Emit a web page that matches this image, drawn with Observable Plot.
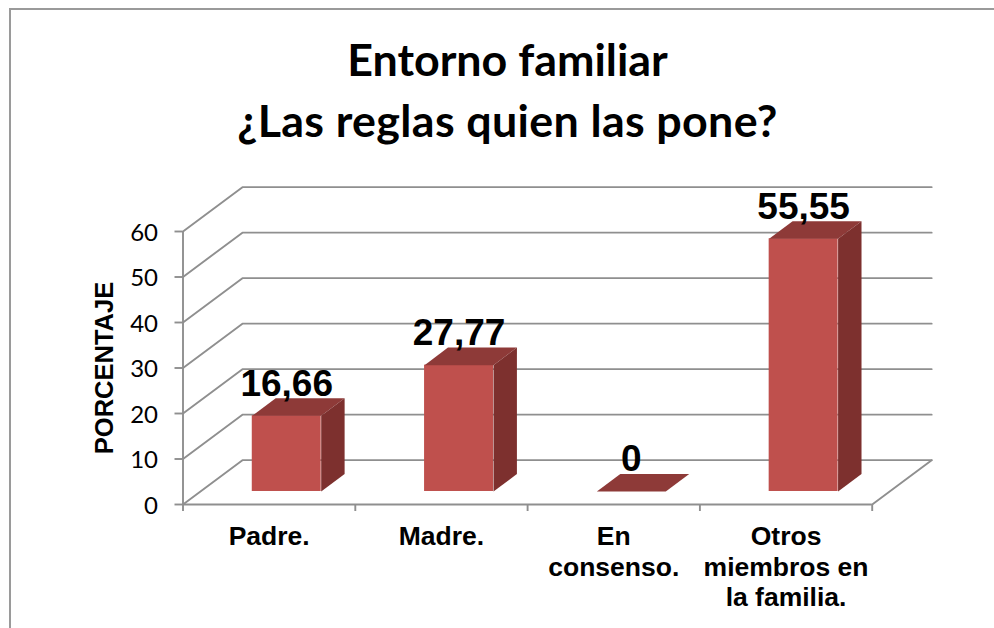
<!DOCTYPE html>
<html>
<head>
<meta charset="utf-8">
<script src="https://cdn.jsdelivr.net/npm/d3@7"></script>
<script src="https://cdn.jsdelivr.net/npm/@observablehq/plot@0.6"></script>
<style>
html,body{margin:0;padding:0;background:#fff;overflow:hidden}
#page{position:relative;width:994px;height:628px;overflow:hidden}
#frame{position:absolute;left:9px;top:8px;width:1040px;height:680px;border:2px solid #9a9a9a;box-sizing:border-box}
#title{position:absolute;left:0;top:29px;width:1015px;text-align:center;font:700 44.8px/61px Lato,sans-serif;color:#000}
#title span{letter-spacing:.35px}
#chart{position:absolute;left:0;top:0}
</style>
</head>
<body>
<div id="page">
<div id="frame"></div>
<div id="chart"></div>
<div id="title">Entorno familiar<br><span>¿Las reglas quien las pone?</span></div>
</div>
<script>
const categories = ["Padre.", "Madre.", "En\nconsenso.", "Otros\nmiembros en\nla familia."];
const values = [16.66, 27.77, 0, 55.55];
const valueLabels = ["16,66", "27,77", "0", "55,55"];
const yTicks = [0, 10, 20, 30, 40, 50, 60];

// 3-D projection, in data units (categories on x, percent on y)
const wallDX = 0.345, wallDY = 9.75;
const barInset = 0.102, barWidth = 0.4;
const baseDY = 2.86;
const depthDX = 0.136, depthDY = 3.85;
const labelDY = 4.4;
const n = categories.length;

const barsData = values.map((v, i) => {
  const x1 = i + 0.5 - barWidth / 2 + barInset, x2 = x1 + barWidth;
  return {i, v, x1, x2, y1: baseDY, y2: baseDY + v};
});
const poly = (id, pts) => pts.map(([x, y]) => ({id, x, y}));
const frontFaces = barsData.filter(b => b.v > 0);
const topFaces = barsData.flatMap(b => poly("t" + b.i, [
  [b.x1, b.y2], [b.x2, b.y2], [b.x2 + depthDX, b.y2 + depthDY], [b.x1 + depthDX, b.y2 + depthDY]
]));
const sideFaces = barsData.filter(b => b.v > 0).flatMap(b => poly("s" + b.i, [
  [b.x2, b.y1], [b.x2 + depthDX, b.y1 + depthDY], [b.x2 + depthDX, b.y2 + depthDY], [b.x2, b.y2]
]));
const wallLines = yTicks.flatMap(t => poly("w" + t, [
  [0, t], [wallDX, t + wallDY], [n + wallDX, t + wallDY]
]));
const floorEdge = poly("f", [[n, 0], [n + wallDX, wallDY]]);

const gray = "#8f8f8f";
const plot = Plot.plot({
  width: 994,
  height: 628,
  marginLeft: 182.5,
  marginRight: 122.3,
  marginTop: 231,
  marginBottom: 124,
  style: {background: "transparent"},
  x: {type: "linear", domain: [0, n], axis: null},
  y: {type: "linear", domain: [0, 60], axis: null},
  marks: [
    Plot.line(wallLines, {x: "x", y: "y", z: "id", stroke: gray, strokeWidth: 1.9}),
    Plot.line(floorEdge, {x: "x", y: "y", stroke: gray, strokeWidth: 1.9}),
    Plot.ruleX([0], {y1: 0, y2: 60, stroke: gray, strokeWidth: 1.9}),
    Plot.ruleY([0], {x1: 0, x2: n, stroke: gray, strokeWidth: 2.1}),
    Plot.axisY(yTicks, {
      anchor: "left", ticks: yTicks, tickSize: 8, tickFormat: () => "", stroke: gray, strokeWidth: 1.9, label: null
    }),
    Plot.axisY(yTicks, {
      anchor: "left", ticks: yTicks, tickSize: 0, tickPadding: 25, dy: 1.5, stroke: "none",
      label: null, fontSize: 24, fontFamily: "Lato, sans-serif", color: "#000"
    }),
    Plot.axisX(d3.range(n + 1), {
      anchor: "bottom", ticks: d3.range(n + 1), tickSize: 7, tickFormat: () => "", stroke: gray, strokeWidth: 1.9, label: null
    }),
    Plot.rect(frontFaces, {x1: "x1", x2: "x2", y1: "y1", y2: "y2", fill: "#bf504d"}),
    Plot.line(topFaces, {x: "x", y: "y", z: "id", fill: "#8e3a38", stroke: "none", curve: "linear-closed"}),
    Plot.line(sideFaces, {x: "x", y: "y", z: "id", fill: "#7d302e", stroke: "none", curve: "linear-closed"}),
    Plot.text(barsData, {
      x: d => (d.x1 + d.x2) / 2, y: d => d.y2 + labelDY,
      text: d => valueLabels[d.i], lineAnchor: "bottom",
      fontFamily: "'Liberation Sans', Arial, sans-serif", fontWeight: 700, fontSize: 37, fill: "#000"
    }),
    Plot.text(categories, {
      x: (d, i) => i + 0.5, y: 0, text: d => d, lineAnchor: "top", dy: 19, lineHeight: 1.15,
      fontFamily: "'Liberation Sans', Arial, sans-serif", fontWeight: 700, fontSize: 26.5, fill: "#000"
    }),
    Plot.text(["PORCENTAJE"], {
      x: 0, y: 30, dx: -78, rotate: -90, text: d => d,
      fontFamily: "'Liberation Sans', Arial, sans-serif", fontWeight: 700, fontSize: 25.5, fill: "#000"
    })
  ]
});
document.getElementById("chart").appendChild(plot);
</script>
</body>
</html>
